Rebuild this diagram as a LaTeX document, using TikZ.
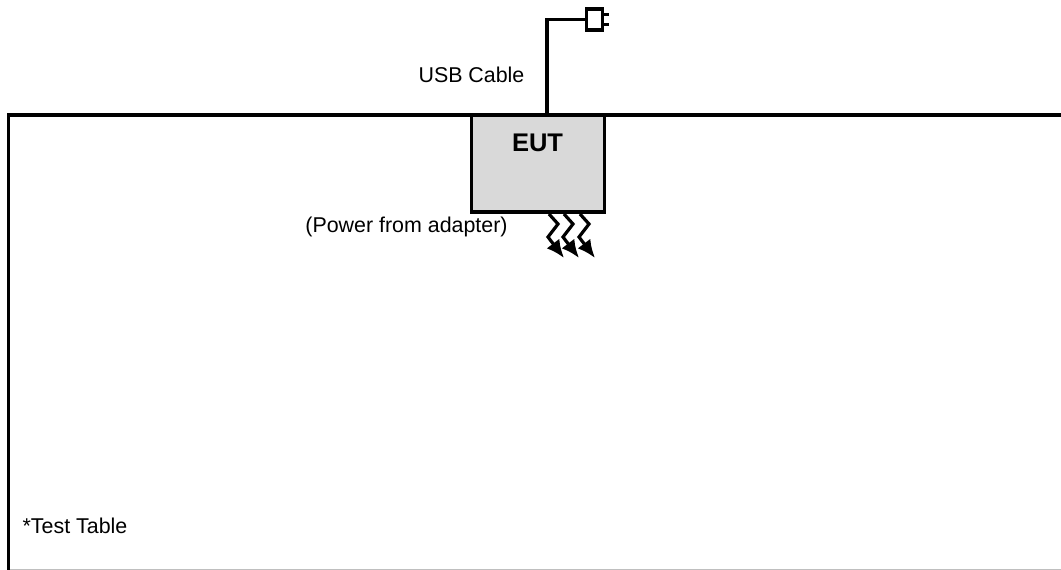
\documentclass[tikz,border=0pt]{standalone}
\usepackage{fontspec}
\setmainfont{Liberation Sans}
\usetikzlibrary{arrows.meta}

\definecolor{eutgray}{RGB}{217,217,217}
\tikzstyle{eutbox} = [rectangle, minimum width=133pt, minimum height=97pt, inner sep=0pt, draw=black, line width=3.5pt, fill=eutgray]
\tikzstyle{plugbox} = [rectangle, minimum width=16pt, minimum height=21pt, inner sep=0pt, draw=black, line width=3.5pt, fill=white]
\tikzstyle{label} = [inner sep=0pt, font=\fontsize{21.4}{25}\selectfont]
\tikzstyle{wire} = [draw=black, line width=3.5pt]
\tikzstyle{bolt} = [draw=black, line width=3.2pt, -{Latex[length=18pt,width=16pt]}]

\begin{document}
\begin{tikzpicture}[x=1pt, y=-1pt]

	\useasboundingbox (0,0) rectangle (1061,570);

	\coordinate (tableTL) at (8.5,115);
	\coordinate (tableBL) at (8.5,570);
	\coordinate (tableTR) at (1061,115);
	\coordinate (floorL) at (10,569);
	\coordinate (floorR) at (1061,569);

	\draw [wire] (tableBL) -- (tableTL) -- (tableTR);
	\draw [draw=black!25, line width=1pt] (floorL) -- (floorR);

	\node (EUT) [eutbox] at (538,163.5) {};
	\node (EUTlabel) [label, font=\fontsize{25.5}{30}\selectfont\bfseries] at (537.5,143) {EUT};
	\node (plug) [plugbox] at (594.5,19.5) {};
	\coordinate (cableBase) at (547,115);
	\coordinate (prongA) at (609,14);
	\coordinate (prongB) at (609,24);

	\draw [wire] (cableBase) |- (plug.west);
	\draw [wire, line width=3pt] (plug.east |- prongA) -- (prongA);
	\draw [wire, line width=3pt] (plug.east |- prongB) -- (prongB);

	\node (cablelabel) [label] at (471.5,75) {USB Cable};
	\node (powerlabel) [label] at (406.5,226.5) {(Power from adapter)};
	\node (tablelabel) [label] at (75,526) {*Test Table};

	\coordinate (boltA) at (549,214);
	\coordinate (boltB) at (564,214);
	\coordinate (boltC) at (580,214);

	\draw [bolt] (boltA) -- ++(9,10) -- ++(-10,13) -- ++(16,21);
	\draw [bolt] (boltB) -- ++(9,10) -- ++(-10,13) -- ++(16,21);
	\draw [bolt] (boltC) -- ++(9,10) -- ++(-10,13) -- ++(16,21);

\end{tikzpicture}
\end{document}
